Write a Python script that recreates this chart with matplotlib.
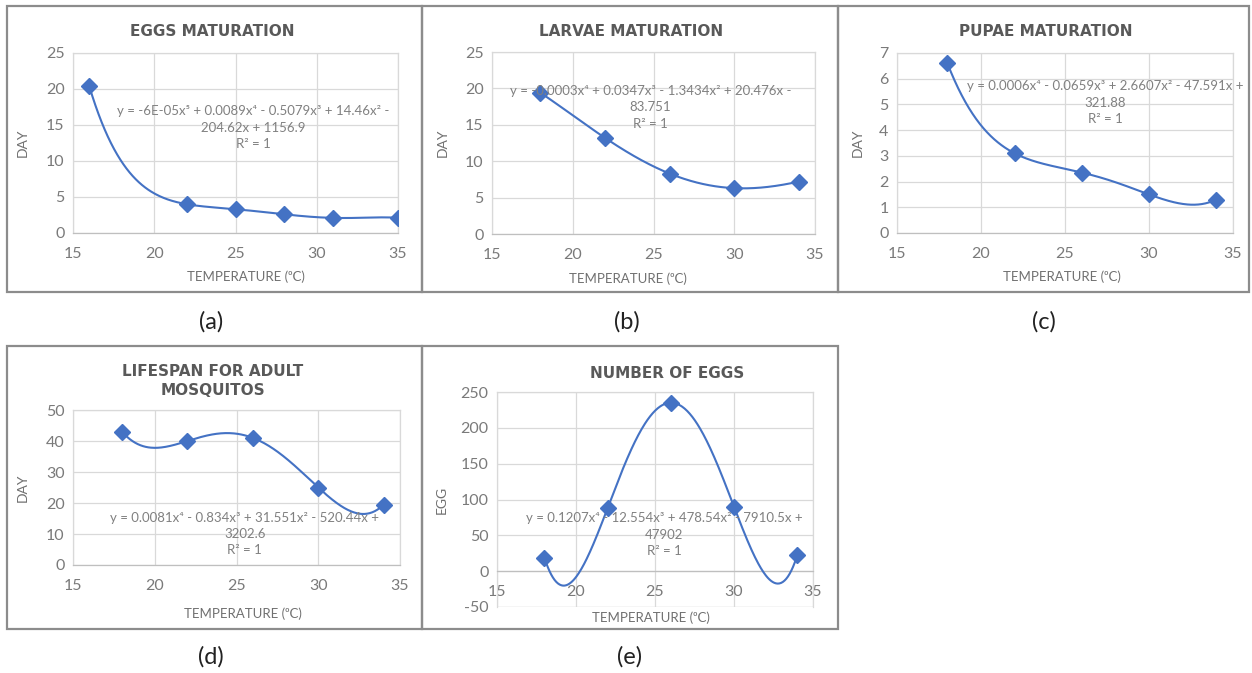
import matplotlib
matplotlib.use('Agg')
import matplotlib.pyplot as plt
import numpy as np
from matplotlib.patches import Rectangle

plt.rcParams['font.family'] = ['Lato', 'DejaVu Sans']
plt.rcParams['axes.unicode_minus'] = False

# ---- data ----
temp_a = [16, 22, 25, 28, 31, 35]
days_a = [20.4, 4.0, 3.3, 2.6, 2.1, 2.1]

temp_b = [18, 22, 26, 30, 34]
days_b = [19.4, 13.2, 8.3, 6.3, 7.2]

temp_c = [18, 22, 26, 30, 34]
days_c = [6.6, 3.1, 2.35, 1.5, 1.3]

temp_d = [18, 22, 26, 30, 34]
days_d = [43.0, 40.0, 41.0, 25.0, 19.5]

temp_e = [18, 22, 26, 30, 34]
eggs_e = [19, 88, 235, 90, 22]

titles = ['EGGS MATURATION', 'LARVAE MATURATION', 'PUPAE MATURATION',
          'LIFESPAN FOR ADULT\nMOSQUITOS', 'NUMBER OF EGGS']
ylabels = ['DAY', 'DAY', 'DAY', 'DAY', 'EGG']
equations = [
    'y = -6E-05x\u2075 + 0.0089x\u2074 - 0.5079x\u00b3 + 14.46x\u00b2 -\n204.62x + 1156.9\nR\u00b2 = 1',
    'y = -0.0003x\u2074 + 0.0347x\u00b3 - 1.3434x\u00b2 + 20.476x -\n83.751\nR\u00b2 = 1',
    'y = 0.0006x\u2074 - 0.0659x\u00b3 + 2.6607x\u00b2 - 47.591x +\n321.88\nR\u00b2 = 1',
    'y = 0.0081x\u2074 - 0.834x\u00b3 + 31.551x\u00b2 - 520.44x +\n3202.6\nR\u00b2 = 1',
    'y = 0.1207x\u2074 - 12.554x\u00b3 + 478.54x\u00b2 - 7910.5x +\n47902\nR\u00b2 = 1',
]
panel_tags = ['(a)', '(b)', '(c)', '(d)', '(e)']

W, H = 1252, 673
fig = plt.figure(figsize=(W / 100, H / 100), dpi=100)


def fx(x):
    return x / W


def fy(y):
    return 1 - y / H


def add_axes_px(left, top, right, bottom):
    return fig.add_axes([fx(left), fy(bottom), (right - left) / W, (bottom - top) / H])


# panel frames (px): left, top, right, bottom
frames = [(7, 6, 422, 292), (422, 6, 838, 292), (838, 6, 1249, 292),
          (7, 346, 422, 629), (422, 346, 838, 629)]
# plot areas (px)
areas = [(73, 53, 398, 233), (492, 52, 815, 234), (897, 53, 1233, 233),
         (73, 410, 400, 565), (497, 392, 813, 607)]
ylims = [(0, 25), (0, 25), (0, 7), (0, 50), (-50, 250)]
ysteps = [5, 5, 1, 10, 50]
eq_pos = [(26.1, 14.6), (24.8, 17.4), (27.4, 5.06), (25.5, 10.0), (25.6, 51)]
title_pos = [(212, 32), (631, 32), (1046, 32), (213, 381), (667, 373)]
xlabel_pos = [(246, 277), (628, 279), (1062, 277), (243, 614), (651, 618)]
ylabel_x = [23, 443, 858, 23, 442]
tag_pos = [(211, 322), (627, 322), (1044, 322), (211, 657), (630, 657)]

series = [(temp_a, days_a), (temp_b, days_b), (temp_c, days_c),
          (temp_d, days_d), (temp_e, eggs_e)]

blue = '#4472C4'
grid_c = '#d9d9d9'
tick_c = '#7a7a7a'

for i, (xs, ys) in enumerate(series):
    l, t, r, b = frames[i]
    fig.add_artist(Rectangle((fx(l), fy(b)), (r - l) / W, (b - t) / H,
                             transform=fig.transFigure, fill=False,
                             edgecolor='#8c8c8c', linewidth=1.6))
    ax = add_axes_px(*areas[i])
    xs = np.array(xs, dtype=float)
    ys = np.array(ys, dtype=float)

    # polynomial trendline through the points (as in the Excel chart)
    coef = np.polyfit(xs, ys, len(xs) - 1)
    xx = np.linspace(xs.min(), xs.max(), 300)
    ax.plot(xx, np.polyval(coef, xx), color=blue, linewidth=1.5, zorder=3)
    ax.plot(xs, ys, linestyle='none', marker='D', markersize=8,
            color=blue, zorder=4)

    ax.set_xlim(15, 35)
    ax.set_ylim(*ylims[i])
    ax.set_xticks(np.arange(15, 36, 5))
    ax.set_yticks(np.arange(ylims[i][0], ylims[i][1] + 0.01, ysteps[i]))
    ax.grid(True, color=grid_c, linewidth=0.9)
    ax.set_axisbelow(True)
    for s in ax.spines.values():
        s.set_color(grid_c)
        s.set_linewidth(0.9)
    if ylims[i][0] < 0:
        ax.spines['bottom'].set_position(('data', 0))
        ax.axhline(ylims[i][0], color=grid_c, linewidth=0.9)
    ax.spines['bottom'].set_color('#bfbfbf')
    ax.tick_params(length=0, labelsize=11.5, colors=tick_c)
    ax.tick_params(axis='x', pad=10)
    ax.tick_params(axis='y', pad=6)

    ax.text(eq_pos[i][0], eq_pos[i][1], equations[i], ha='center', va='center',
            fontsize=9.5, color='#808080', linespacing=1.45, zorder=5)

    fig.text(fx(title_pos[i][0]), fy(title_pos[i][1]), titles[i], ha='center',
             va='center', fontsize=11, fontweight='bold', color='#595959',
             family=['DejaVu Sans'], linespacing=1.4)
    fig.text(fx(xlabel_pos[i][0]), fy(xlabel_pos[i][1]),
             'TEMPERATURE (\u2070C)', ha='center', va='center',
             fontsize=9.5, color='#707070')
    ax_mid = (areas[i][1] + areas[i][3]) / 2
    fig.text(fx(ylabel_x[i]), fy(ax_mid), ylabels[i], ha='center', va='center',
             rotation=90, fontsize=10, color='#707070')
    fig.text(fx(tag_pos[i][0]), fy(tag_pos[i][1]), panel_tags[i], ha='center',
             va='center', fontsize=17, color='#222222')

plt.savefig('out.png', dpi=100)
